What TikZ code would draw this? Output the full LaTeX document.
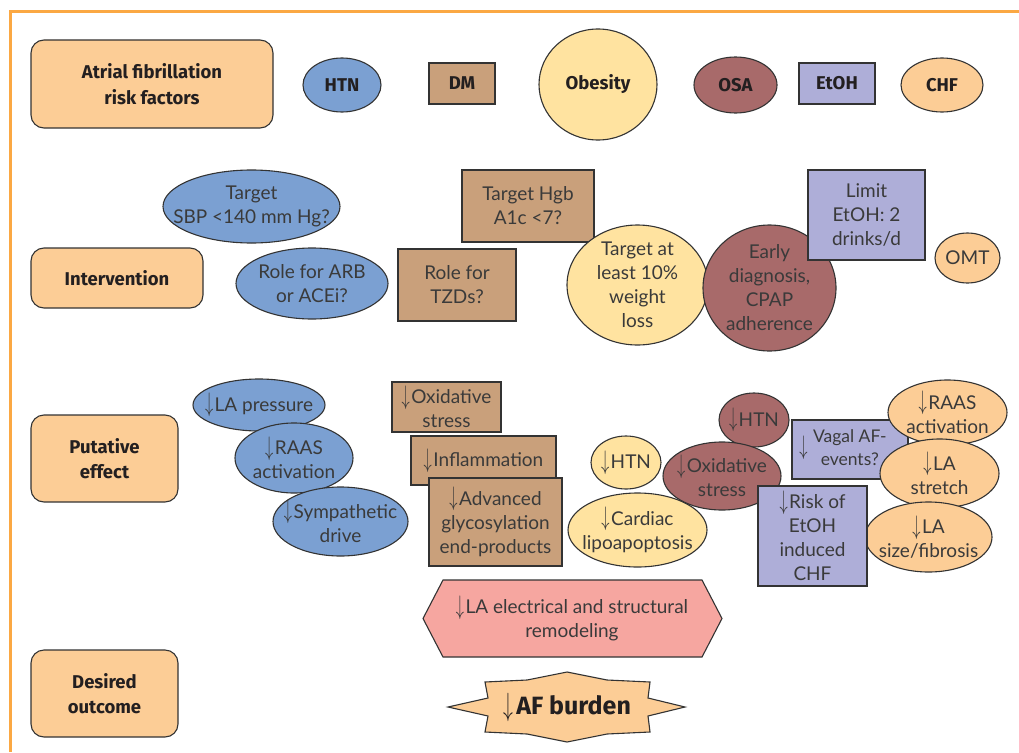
\documentclass[tikz,border=0pt]{standalone}
\usepackage{fontspec}
\setmainfont{Lato}
\newfontfamily\labfont{Fira Sans}
\usetikzlibrary{shapes.geometric}
\definecolor{peach}{HTML}{FCCD96}
\definecolor{bluef}{HTML}{7BA0D2}
\definecolor{tanf}{HTML}{C9A07B}
\definecolor{yelf}{HTML}{FFE3A0}
\definecolor{maroonf}{HTML}{A86A6A}
\definecolor{purf}{HTML}{AEAED8}
\definecolor{pinkf}{HTML}{F6A6A0}
\definecolor{borderc}{HTML}{FBA843}
\definecolor{edgec}{HTML}{333333}
\definecolor{txtc}{HTML}{3A3A3A}
\definecolor{btxtc}{HTML}{231F20}
\newcommand\myarr{\raisebox{-0.5pt}{\scalebox{0.95}[1.55]{$\downarrow$}}\hspace{1.5pt}}
\tikzset{
  base/.style={draw=edgec, line width=1.1pt, inner sep=0pt, outer sep=0pt},
  sz/.style 2 args={minimum width=#1pt, minimum height=#2pt},
  lab/.style={base, rectangle, fill=peach, rounded corners=13pt},
  ell/.style={base, ellipse},
  box/.style={base, rectangle},
  txt/.style={align=center, text=txtc, inner sep=0pt, font=\fontsize{19}{24}\selectfont},
  btxt/.style={align=center, text=btxtc, inner sep=0pt, font=\labfont\bfseries\fontsize{18.5}{25.5}\selectfont},
}
\begin{document}
\begin{tikzpicture}[x=1pt,y=-1pt]
\useasboundingbox (0,0) rectangle (1019,752);
\draw[borderc, line width=3pt] (10,752) -- (10,11.5) -- (1019,11.5);

% row labels
\node[lab, sz={242}{88}] (lrisk) at (152,84) {};
\node[btxt] at (lrisk) {Atrial fibrillation\\risk factors};
\node[lab, sz={172}{60}] (linter) at (117,278) {};
\node[btxt] at (linter) {Intervention};
\node[lab, sz={147}{87}] (lput) at (104.5,458.5) {};
\node[btxt] at (lput) {Putative\\effect};
\node[lab, sz={147}{87}] (ldes) at (104.5,693.5) {};
\node[btxt] at (ldes) {Desired\\outcome};

% risk factors
\node[ell, fill=bluef, sz={78}{54}] (htn) at (342,85) {};
\node[btxt] at (htn) {HTN};
\node[box, fill=tanf, sz={66}{41}] (dm) at (462,83.5) {};
\node[btxt] at (dm) {DM};
\node[ell, fill=yelf, sz={118}{111}] (ob) at (598,84.5) {};
\node[btxt] at (ob) {Obesity};
\node[ell, fill=maroonf, sz={83}{56}] (osa) at (735.5,85) {};
\node[btxt] at (osa) {OSA};
\node[box, fill=purf, sz={76}{41}] (etoh) at (837,83.5) {};
\node[btxt] at (etoh) {EtOH};
\node[ell, fill=peach, sz={82}{54}] (chf) at (942,85) {};
\node[btxt] at (chf) {CHF};

% interventions
\node[ell, fill=bluef, sz={177}{73}] (isbp) at (251.5,206.5) {};
\node[txt] at (isbp) {Target\\SBP <140 mm Hg?};
\node[ell, fill=bluef, sz={152}{71}] (iarb) at (312,283.5) {};
\node[txt] at (iarb) {Role for ARB\\or ACEi?};
\node[box, fill=tanf, sz={118}{72}] (itzd) at (457,285) {};
\node[txt] at (itzd) {Role for\\TZDs?};
\node[box, fill=tanf, sz={132}{72}] (ihgb) at (528,206) {};
\node[txt] at (ihgb) {Target Hgb\\A1c <7?};
\node[ell, fill=yelf, sz={141}{120}] (iwt) at (637.5,285) {};
\node[txt] at (iwt) {Target at\\least 10\%\\weight\\loss};
\node[ell, fill=maroonf, sz={133}{126}] (icpap) at (769.5,288) {};
\node[txt] at (icpap) {Early\\diagnosis,\\CPAP\\adherence};
\node[box, fill=purf, sz={117}{90}] (ietoh) at (866.5,215) {};
\node[txt] at (ietoh) {Limit\\EtOH: 2\\drinks/d};
\node[ell, fill=peach, sz={65}{50}] (iomt) at (967.5,258) {};
\node[txt] at (iomt) {OMT};

% putative effects - blue
\node[ell, fill=bluef, sz={132}{52}] (pla) at (259,405) {};
\node[txt] at (pla) {\myarr LA pressure};
\node[ell, fill=bluef, sz={118}{70}] (praas) at (294,458) {};
\node[txt] at (praas) {\myarr RAAS\\activation};
\node[ell, fill=bluef, sz={135}{69}] (psym) at (340.5,521.5) {};
\node[txt] at (psym) {\myarr Sympathetic\\drive};

% tan
\node[box, fill=tanf, sz={109}{50}] (pox) at (446.5,407) {};
\node[txt] at (pox) {\myarr Oxidative\\stress};
\node[box, fill=tanf, sz={145}{49}] (pinf) at (483.5,460.5) {};
\node[txt] at (pinf) {\myarr Inflammation};
\node[box, fill=tanf, sz={133}{88}] (page) at (495.5,522) {};
\node[txt] at (page) {\myarr Advanced\\glycosylation\\end-products};

% yellow
\node[ell, fill=yelf, sz={70}{53}] (phtny) at (626,462.5) {};
\node[txt] at (phtny) {\myarr HTN};

% maroon
\node[ell, fill=maroonf, sz={70}{54}] (phtnm) at (754,420) {};
\node[txt] at (phtnm) {\myarr HTN};
\node[ell, fill=maroonf, sz={118}{68}] (poxm) at (722,476) {};
\node[txt] at (poxm) {\myarr Oxidative\\stress};

\node[ell, fill=yelf, sz={139}{74}] (pcard) at (637.5,530) {};
\node[txt] at (pcard) {\myarr Cardiac\\lipoapoptosis};

% purple and peach
\node[box, fill=purf, sz={116}{59}] (pvag) at (850,449.5) {};
\node[txt, font=\fontsize{17.5}{23}\selectfont] at (843,449.5) {\myarr\hspace{4pt}\begin{tabular}{@{}c@{}}Vagal AF-\\events?\end{tabular}};
\node[ell, fill=peach, sz={119}{65}] (praasp) at (947.5,412.5) {};
\node[txt] at (praasp) {\myarr RAAS\\activation};
\node[ell, fill=peach, sz={119}{69}] (pstr) at (939.5,473.5) {};
\node[txt] at (pstr) {\myarr LA\\stretch};
\node[ell, fill=peach, sz={127}{70}] (psize) at (928.5,537) {};
\node[txt] at (psize) {\myarr LA\\size/fibrosis};
\node[box, fill=purf, sz={109}{100}] (prisk) at (812.5,536) {};
\node[txt] at (prisk) {\myarr Risk of\\EtOH\\induced\\CHF};

% outcome shapes
\draw[base, fill=pinkf] (423,618.5) -- (443,580) -- (702,580) -- (722,618.5) -- (702,657) -- (443,657) -- cycle;
\node[txt] (remod) at (572,618.5) {\myarr LA electrical and structural\\remodeling};

\draw[base, fill=peach] (448,707) -- (488,698) -- (485,682) -- (527,680) -- (567,672) -- (607,680) -- (650,682) -- (648,698) -- (685,707) -- (648,716) -- (650,732) -- (607,734) -- (567,742) -- (527,734) -- (485,732) -- (488,716) -- cycle;
\node[txt, font=\labfont\bfseries\fontsize{25}{28}\selectfont, text=btxtc] (afb) at (567,707) {{\fontseries{m}\fontsize{21}{24}\selectfont\myarr}\hspace{2pt}AF burden};
\end{tikzpicture}
\end{document}
